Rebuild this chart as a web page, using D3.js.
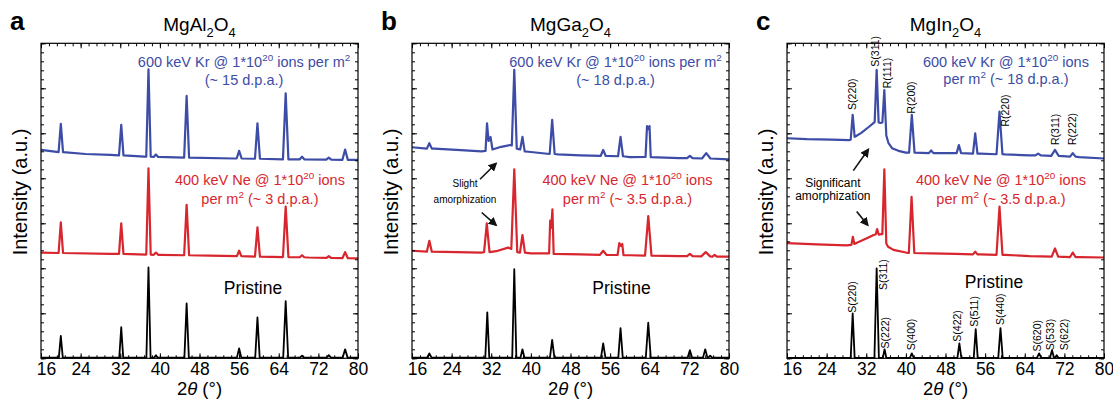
<!DOCTYPE html>
<html>
<head>
<meta charset="utf-8">
<script src="https://cdn.jsdelivr.net/npm/d3@7"></script>
<style>
  body { margin: 0; background: #fff; }
  svg { font-family: "Liberation Sans", Arial, Helvetica, sans-serif; }
</style>
</head>
<body>
<svg id="chart" width="1113" height="409"></svg>
<script>
// ---- data (2theta in degrees, intensity in arbitrary units) ----
const xMajor = [16, 24, 32, 40, 48, 56, 64, 72, 80];
const panelLetters = ["a", "b", "c"];
const panelTitles = ["MgAl_2O_4", "MgGa_2O_4", "MgIn_2O_4"];
const krNotes = [
  ["600 keV Kr @ 1*10^20 ions per m^2", "(~ 15 d.p.a.)"],
  ["600 keV Kr @ 1*10^20 ions per m^2", "(~ 18 d.p.a.)"],
  ["600 keV Kr @ 1*10^20 ions", "per m^2 (~ 18 d.p.a.)"]
];
const neNotes = [
  ["400 keV Ne @ 1*10^20 ions", "per m^2 (~ 3 d.p.a.)"],
  ["400 keV Ne @ 1*10^20 ions", "per m^2 (~ 3.5 d.p.a.)"],
  ["400 keV Ne @ 1*10^20 ions", "per m^2 (~ 3.5 d.p.a.)"]
];
const amorphNotes = [null, ["Slight", "amorphization"], ["Significant", "amorphization"]];

// background points [2theta, I]; peaks [2theta, base, top, halfwidth, baseRight?]
const aPristineBase = [[16, 0.15], [80, 0.15]];
const aPristinePeaks = [[20.0, 0.15, 5.0, 0.4], [32.2, 0.15, 6.9, 0.4], [37.7, 0.15, 20.2, 0.42], [39.2, 0.15, 0.7, 0.35],
  [45.4, 0.15, 12.2, 0.45], [56.0, 0.15, 2.2, 0.45], [59.7, 0.15, 9.1, 0.45], [65.4, 0.15, 12.7, 0.5],
  [68.7, 0.15, 0.6, 0.45], [74.1, 0.15, 0.7, 0.45], [77.4, 0.15, 2.0, 0.5]];
const aNeBase = [[16, 23.5], [30, 23.2], [40, 23.0], [50, 22.8], [60, 22.6], [70, 22.4], [80, 22.2]];
const aNePeaks = [[20.0, 23.4, 30.2, 0.45], [32.2, 23.2, 30.0, 0.45], [37.7, 23.05, 42.2, 0.45], [39.2, 23.0, 23.5, 0.45],
  [45.4, 22.9, 34.1, 0.5], [56.0, 22.7, 23.9, 0.45], [59.7, 22.6, 29.1, 0.5], [65.4, 22.5, 33.7, 0.55],
  [68.7, 22.45, 22.9, 0.45], [74.1, 22.3, 22.7, 0.45], [77.4, 22.25, 23.6, 0.55]];
const aKrBase = [[16, 46.3], [20, 45.8], [25, 45.4], [30, 45.2], [36.9, 44.8], [45, 44.6], [55, 44.4], [65, 44.2], [80, 44.1]];
const aKrPeaks = [[20.0, 45.8, 52.1, 0.45], [32.2, 45.1, 51.9, 0.45], [37.7, 44.8, 64.2, 0.45], [39.2, 44.75, 45.3, 0.45],
  [45.4, 44.6, 58.3, 0.5], [56.0, 44.4, 46.1, 0.5], [59.7, 44.35, 52.2, 0.5], [65.4, 44.2, 58.9, 0.55],
  [68.7, 44.2, 44.8, 0.5], [74.1, 44.15, 44.6, 0.5], [77.4, 44.1, 46.4, 0.55]];

const bPristineBase = [[16, 0.15], [80, 0.15]];
const bPristinePeaks = [[19.5, 0.15, 1.1, 0.45], [31.2, 0.15, 10.2, 0.4], [36.65, 0.15, 19.8, 0.42], [38.3, 0.15, 2.0, 0.4],
  [44.3, 0.15, 4.1, 0.45], [54.6, 0.15, 3.3, 0.45], [58.1, 0.15, 6.7, 0.45], [63.7, 0.15, 7.9, 0.5],
  [72.1, 0.15, 1.8, 0.45], [75.2, 0.15, 2.0, 0.45], [76.2, 0.15, 0.6, 0.4]];
const bNeBase = [[16, 23.9], [25, 23.6], [30, 23.5], [33, 23.8], [35.4, 24.6], [40, 23.3], [50, 23.1], [60, 22.9], [70, 22.7], [80, 22.6]];
const bNePeaks = [[19.5, 23.7, 26.1, 0.5], [31.1, 23.6, 30.0, 0.55], [36.65, 24.3, 42.0, 0.6, 23.6], [38.3, 23.5, 27.4, 0.5],
  [43.9, 23.3, 30.6, 0.22, 29.0], [44.35, 29.0, 33.1, 0.25, 23.2], [54.6, 23.0, 23.9, 0.65],
  [57.85, 22.95, 25.6, 0.35, 25.0], [58.45, 25.0, 25.4, 0.25, 22.9], [63.7, 22.8, 31.6, 0.65],
  [72.1, 22.7, 23.2, 0.55], [75.3, 22.65, 23.6, 0.9], [77.1, 22.6, 23.0, 0.45]];
const bKrBase = [[16, 46.9], [20.5, 46.6], [25, 46.3], [30, 46.0], [34, 47.0], [35.8, 47.4], [39.5, 45.9], [45.5, 45.3],
  [50, 45.1], [60, 44.7], [70, 44.5], [80, 44.2]];
const bKrPeaks = [[19.5, 46.6, 47.8, 0.5], [31.15, 46.1, 52.2, 0.3, 48.3], [31.85, 48.3, 49.2, 0.4, 46.4],
  [36.65, 47.3, 64.1, 0.5, 46.6], [38.3, 46.4, 49.2, 0.45, 46.0], [44.3, 45.4, 53.0, 0.5],
  [54.6, 45.0, 46.3, 0.5], [58.1, 44.9, 49.2, 0.5], [63.45, 44.75, 51.6, 0.3, 50.9], [63.95, 50.9, 51.6, 0.25, 44.7],
  [72.1, 44.5, 45.0, 0.55], [75.4, 44.4, 45.6, 0.85]];

const cPristineBase = [[16, 0.1], [80, 0.1]];
const cPristinePeaks = [[29.26, 0.1, 10.0, 0.4], [34.1, 0.1, 20.0, 0.45], [35.7, 0.1, 2.0, 0.35], [41.2, 0.1, 1.1, 0.4],
  [50.8, 0.1, 3.3, 0.4], [54.1, 0.1, 6.5, 0.4], [59.1, 0.1, 6.7, 0.45], [66.9, 0.1, 1.1, 0.45],
  [69.5, 0.1, 1.8, 0.4], [70.45, 0.1, 0.7, 0.35]];
const cNeBase = [[16, 25.6], [22, 25.3], [28, 25.1], [30, 25.6], [32, 26.6], [33.5, 27.4], [35.0, 27.6], [36.4, 24.8],
  [37.5, 24.1], [40, 23.5], [45, 23.3], [50, 23.2], [55, 23.1], [60, 23.0], [65, 22.7], [70, 22.6], [75, 22.5], [80, 22.4]];
const cNePeaks = [[29.3, 25.2, 27.0, 0.3, 25.4], [34.2, 27.5, 28.7, 0.3], [35.65, 27.6, 42.0, 0.4, 25.5],
  [41.15, 23.4, 35.9, 0.55], [54.0, 23.1, 23.7, 0.45], [58.9, 23.0, 33.7, 0.6], [70.1, 22.6, 24.4, 0.65], [73.7, 22.5, 23.5, 0.55]];
const cKrBase = [[16, 48.9], [20, 48.7], [25, 48.6], [28.6, 48.5], [29.8, 49.3], [31, 50.1], [32.5, 51.4], [33.5, 52.3],
  [34.9, 52.3], [36.5, 47.8], [37.2, 46.7], [38.5, 46.1], [40, 45.7], [45, 45.6], [50, 45.6], [55, 45.5],
  [60, 45.3], [65, 45.1], [70, 45.0], [75, 44.7], [80, 44.4]];
const cKrPeaks = [[29.26, 48.6, 54.1, 0.4, 49.2], [34.1, 52.5, 64.1, 0.4, 52.4], [35.65, 52.4, 59.6, 0.4, 49.5],
  [41.2, 45.7, 54.1, 0.55], [45.1, 45.6, 46.2, 0.45], [50.7, 45.6, 47.4, 0.45], [54.0, 45.5, 50.0, 0.45],
  [58.9, 45.35, 54.8, 0.6], [66.7, 45.1, 45.5, 0.55], [70.1, 45.0, 46.3, 0.75], [73.7, 44.8, 45.6, 0.55]];

// reflection labels for panel c: [text, 2theta, intensity at label foot]
const cPristineLabels = [["S(220)", 29.2, 10.1], ["S(311)", 35.4, 15.2], ["S(222)", 35.8, 2.2], ["S(400)", 41.0, 1.8],
  ["S(422)", 50.4, 3.7], ["S(511)", 53.9, 7.0], ["S(440)", 59.0, 7.4], ["S(620)", 66.6, 1.5],
  ["S(533)", 69.2, 1.8], ["S(622)", 71.9, 1.8]];
const cKrLabels = [["S(220)", 29.2, 55.2], ["S(311)", 33.8, 64.8], ["R(111)", 36.2, 60.0], ["R(200)", 41.0, 54.4],
  ["R(220)", 60.0, 51.5], ["R(311)", 70.1, 47.4], ["R(222)", 73.7, 47.4]];

// ---- layout ----
const blue = "#3d4ca6", red = "#d8262e";
const panelLeft = [41, 412, 787];
const plotW = 317, plotTop = 43.3, plotBottom = 358.3;
const krNotePos = [[57.0, 64.8, 60.7], [57.1, 64.8, 60.7], [60.2, 64.8, 61.0]];
const neNotePos = [[60.2, 38.5, 34.3], [59.5, 38.5, 34.3], [59.2, 38.5, 34.3]];
const pristinePos = [[58.8, 14.4], [58.3, 14.4], [57.8, 15.6]];
const amorphPos = [null, [26.7, 38.1, 34.6], [25.25, 38.1, 35.2]];
const amorphArrows = [null,
  [[29.73, 39.8, 32.96, 43.3], [30.07, 32.4, 32.96, 29.6]],
  [[29.39, 41.7, 32.41, 46.4], [30.07, 32.6, 32.29, 29.6]]];

const panels = [
  { traces: [[aPristineBase, aPristinePeaks, "#000"], [aNeBase, aNePeaks, red], [aKrBase, aKrPeaks, blue]] },
  { traces: [[bPristineBase, bPristinePeaks, "#000"], [bNeBase, bNePeaks, red], [bKrBase, bKrPeaks, blue]] },
  { traces: [[cPristineBase, cPristinePeaks, "#000"], [cNeBase, cNePeaks, red], [cKrBase, cKrPeaks, blue]],
    labels: [cPristineLabels, cKrLabels] }
];

const FONT = '"Liberation Sans", Arial, Helvetica, sans-serif';
const svg = d3.select("#chart");
svg.append("defs").append("marker")
  .attr("id", "arrow").attr("viewBox", "0 0 10 10")
  .attr("refX", 8).attr("refY", 5)
  .attr("markerWidth", 9).attr("markerHeight", 9)
  .attr("markerUnits", "userSpaceOnUse").attr("orient", "auto")
  .append("path").attr("d", "M0,0 L10,5 L0,10 z").attr("fill", "#111");

function tracePoints(base, peaks) {
  const pts = base.filter(b => !peaks.some(p => b[0] > p[0] - p[3] && b[0] < p[0] + p[3])).map(b => [b[0], b[1]]);
  peaks.forEach(p => {
    const right = p.length > 4 ? p[4] : p[1];
    pts.push([p[0] - p[3], p[1]], [p[0], p[2]], [p[0] + p[3], right]);
  });
  return pts.sort((a, b) => a[0] - b[0]);
}

// text with ^sup and _sub markers
function richText(g, x, y, str, size, color, anchor) {
  const t = g.append("text").attr("x", x).attr("y", y)
    .attr("font-size", size).attr("fill", color)
    .attr("text-anchor", anchor || "middle");
  let back = 0;
  str.split(/(\^\d+|_\d+)/).forEach(part => {
    if (!part) return;
    if (part[0] === "^" || part[0] === "_") {
      const d = part[0] === "^" ? -0.42 * size : 0.3 * size;
      t.append("tspan").attr("dy", d).attr("font-size", size * 0.68).text(part.slice(1));
      back = -d;
    } else {
      const ts = t.append("tspan").text(part);
      if (back) { ts.attr("dy", back); back = 0; }
    }
  });
  return t;
}

panels.forEach((panel, i) => {
  const left = panelLeft[i];
  const x = d3.scaleLinear().domain([16, 80]).range([left, left + plotW]);
  const y = d3.scaleLinear().domain([0, 70]).range([plotBottom, plotTop]);
  const g = svg.append("g");

  const line = d3.line().x(d => x(d[0])).y(d => y(d[1]));
  panel.traces.forEach(([base, peaks, color]) => {
    g.append("path")
      .attr("d", line(tracePoints(base, peaks)))
      .attr("fill", "none").attr("stroke", color)
      .attr("stroke-width", color === "#000" ? 1.8 : 2.2)
      .attr("stroke-linejoin", "round");
  });

  // frame
  g.append("rect").attr("x", left).attr("y", plotTop)
    .attr("width", plotW).attr("height", plotBottom - plotTop)
    .attr("fill", "none").attr("stroke", "#000").attr("stroke-width", 1.2);

  // ticks, all pointing inward
  const xMinor = d3.range(16, 80.01, 1.6);
  const yMajor = d3.range(0, 70.01, 10), yMinor = d3.range(0, 70.01, 2);
  const axes = [
    [d3.axisBottom(x).tickValues(xMajor).tickSize(-5).tickPadding(4).tickFormat(d3.format("d")), `translate(0,${plotBottom})`],
    [d3.axisBottom(x).tickValues(xMinor).tickSize(-3).tickFormat(""), `translate(0,${plotBottom})`],
    [d3.axisTop(x).tickValues(xMajor).tickSize(-5).tickFormat(""), `translate(0,${plotTop})`],
    [d3.axisTop(x).tickValues(xMinor).tickSize(-3).tickFormat(""), `translate(0,${plotTop})`],
    [d3.axisLeft(y).tickValues(yMajor).tickSize(-5).tickFormat(""), `translate(${left},0)`],
    [d3.axisLeft(y).tickValues(yMinor).tickSize(-3).tickFormat(""), `translate(${left},0)`],
    [d3.axisRight(y).tickValues(yMajor).tickSize(-5).tickFormat(""), `translate(${left + plotW},0)`],
    [d3.axisRight(y).tickValues(yMinor).tickSize(-3).tickFormat(""), `translate(${left + plotW},0)`]
  ];
  axes.forEach(([ax, tr]) => {
    const a = g.append("g").attr("transform", tr).call(ax)
      .attr("font-family", FONT).attr("font-size", 17.5);
    a.select(".domain").remove();
    a.selectAll("line").attr("stroke", "#000").attr("stroke-width", 1);
    a.selectAll("text").attr("fill", "#000");
  });
  g.selectAll(".tick text").filter(d => d === 16).attr("dx", 5);

  // titles
  g.append("text").attr("x", left - 31).attr("y", 29.5)
    .attr("font-size", 26).attr("font-weight", "bold").text(panelLetters[i]);
  richText(g, left + plotW / 2, 31, panelTitles[i], 19, "#000");

  g.append("text")
    .attr("transform", `translate(${left - 14},${192}) rotate(-90)`)
    .attr("text-anchor", "middle").attr("font-size", 20).text("Intensity (a.u.)");
  const xt = g.append("text").attr("x", left + plotW / 2).attr("y", 394.5)
    .attr("text-anchor", "middle").attr("font-size", 18.5);
  xt.append("tspan").text("2");
  xt.append("tspan").attr("font-style", "italic").text("θ");
  xt.append("tspan").text(" (°)");

  // annotations
  const kp = krNotePos[i], np = neNotePos[i], pp = pristinePos[i];
  richText(g, x(kp[0]), y(kp[1]), krNotes[i][0], 14.5, blue);
  richText(g, x(kp[0]), y(kp[2]), krNotes[i][1], 14.5, blue);
  richText(g, x(np[0]), y(np[1]), neNotes[i][0], 14.5, red);
  richText(g, x(np[0]), y(np[2]), neNotes[i][1], 14.5, red);
  g.append("text").attr("x", x(pp[0])).attr("y", y(pp[1]))
    .attr("text-anchor", "middle").attr("font-size", 17.5).text("Pristine");

  if (amorphNotes[i]) {
    const ap = amorphPos[i];
    const fs = i === 1 ? 10 : 12;
    g.append("text").attr("x", x(ap[0])).attr("y", y(ap[1])).attr("text-anchor", "middle")
      .attr("font-size", fs).text(amorphNotes[i][0]);
    g.append("text").attr("x", x(ap[0])).attr("y", y(ap[2])).attr("text-anchor", "middle")
      .attr("font-size", fs).text(amorphNotes[i][1]);
    amorphArrows[i].forEach(a => {
      g.append("line")
        .attr("x1", x(a[0])).attr("y1", y(a[1]))
        .attr("x2", x(a[2])).attr("y2", y(a[3]))
        .attr("stroke", "#111").attr("stroke-width", 1.6)
        .attr("marker-end", "url(#arrow)");
    });
  }

  if (panel.labels) {
    panel.labels.forEach(set => {
      set.forEach(([txt, pos, lv]) => {
        g.append("text")
          .attr("transform", `translate(${x(pos)},${y(lv)}) rotate(-90)`)
          .attr("dy", "0.35em").attr("font-size", 10.5).text(txt);
      });
    });
  }
});
</script>
</body>
</html>
